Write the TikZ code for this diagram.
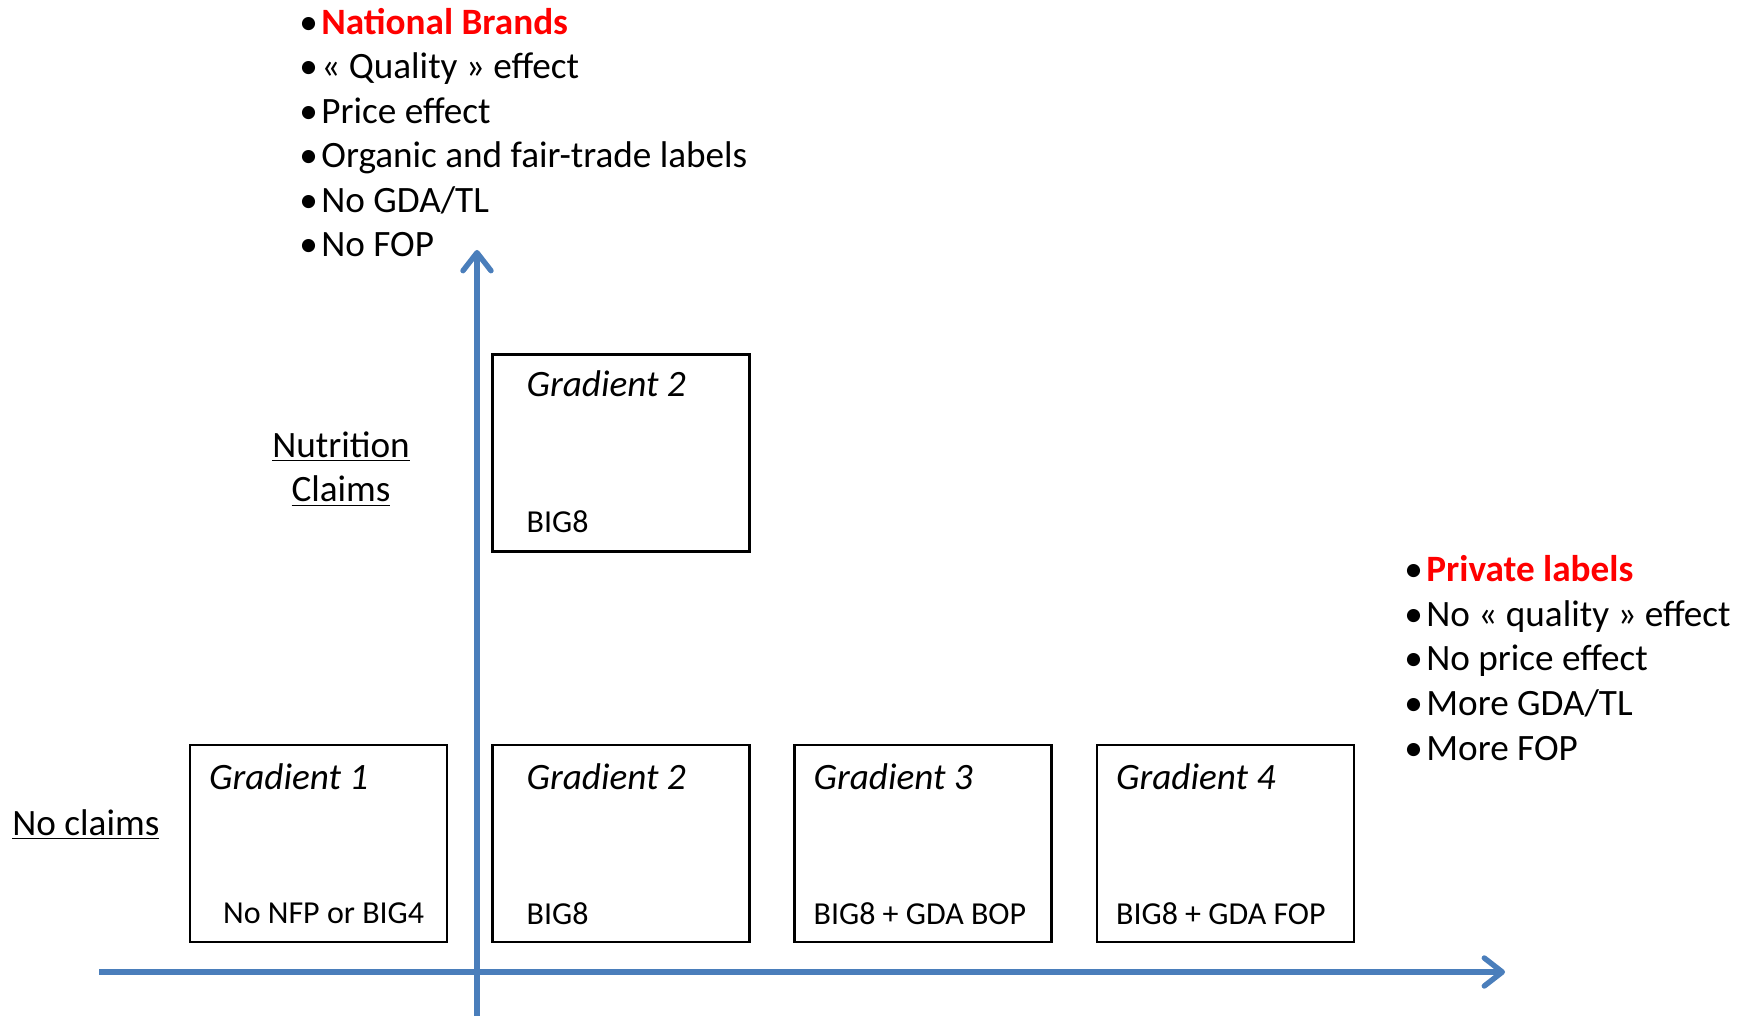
\documentclass[tikz,border=0pt]{standalone}
\usepackage{fontspec}
\setmainfont{Carlito}
\usetikzlibrary{arrows.meta,calc}
\definecolor{axisblue}{RGB}{74,126,187}
\newcommand{\bul}{\makebox[11pt][l]{•}}

\begin{document}
\begin{tikzpicture}[x=0.5pt,y=-0.5pt]
            \tikzset{gbox/.style = {shape=rectangle,draw,line width=1.3pt,minimum width=128.5pt,minimum height=98.5pt}}
            \tikzset{gname/.style = {anchor=west,inner sep=0pt,font=\fontsize{18.6}{22}\selectfont\itshape}}
            \tikzset{gcode/.style = {anchor=west,inner sep=0pt,font=\fontsize{16}{20}\selectfont}}
            \tikzset{axis/.style = {draw=axisblue,line width=2.7pt,-{Straight Barb[length=9pt,width=14pt,round]}}}
            \tikzset{list/.style = {anchor=base west,inner sep=0pt,align=left,font=\fontsize{18.6}{22.3}\selectfont}}
            \useasboundingbox (0,0) rectangle (1742,1016);

            % axes
            \coordinate (xs) at (99,972);
            \coordinate (xe) at (1505,972);
            \coordinate (ys) at (477,1016);
            \coordinate (ye) at (477,250);
            \draw[axis] (xs) to (xe);
            \draw[axis] (ys) to (ye);

            % boxes
            \node[gbox] (g1) at (318.5,843.5) {};
            \node[gbox] (g2) at (621,843.5) {};
            \node[gbox] (g3) at (923,843.5) {};
            \node[gbox] (g4) at (1225.5,843.5) {};
            \node[gbox] (gt) at (621,453) {};

            \node[gname] (g1n) at ($(g1.north west)+(20,33)$) {Gradient 1};
            \node[gname] (g2n) at ($(g2.north west)+(35,33)$) {Gradient 2};
            \node[gname] (g3n) at ($(g3.north west)+(20,33)$) {Gradient 3};
            \node[gname] (g4n) at ($(g4.north west)+(20,33)$) {Gradient 4};
            \node[gname] (gtn) at ($(gt.north west)+(35,31)$) {Gradient 2};

            \node[gcode] (g1c) at ($(g1.south west)+(34,-30)$) {No NFP or BIG4};
            \node[gcode] (g2c) at ($(g2.south west)+(35,-30)$) {BIG8};
            \node[gcode] (g3c) at ($(g3.south west)+(20,-30)$) {BIG8 + GDA BOP};
            \node[gcode] (g4c) at ($(g4.south west)+(20,-30)$) {BIG8 + GDA FOP};
            \node[gcode] (gtc) at ($(gt.south west)+(35,-31)$) {BIG8};

            % axis labels
            \node[list] (noclaims) at (12,835) {\underline{No claims}};
            \node[list,align=center,anchor=base] (nutr) at (341,502) {\underline{Nutrition}\\\underline{Claims}};

            % lists
            \node[list] (nb) at (299,257) {\bul\textcolor{red}{\textbf{National Brands}}\\
                \bul« Quality » effect\\
                \bul Price effect\\
                \bul Organic and fair-trade labels\\
                \bul No GDA/TL\\
                \bul No FOP};
            \node[list] (pl) at (1404,760) {\bul\textcolor{red}{\textbf{Private labels}}\\
                \bul No « quality » effect\\
                \bul No price effect\\
                \bul More GDA/TL\\
                \bul More FOP};
        \end{tikzpicture}
\end{document}
